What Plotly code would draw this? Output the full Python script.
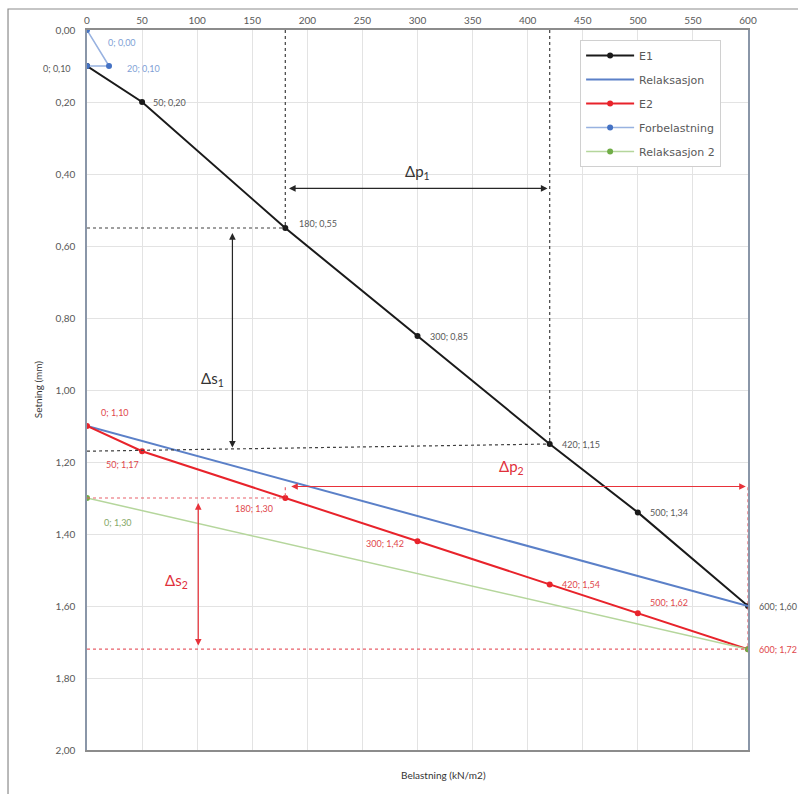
import plotly.graph_objects as go

# ---------------- data ----------------
e1_x = [0, 50, 180, 300, 420, 500, 600]
e1_y = [0.10, 0.20, 0.55, 0.85, 1.15, 1.34, 1.60]

rel_x = [0, 600]
rel_y = [1.10, 1.60]

e2_x = [0, 50, 180, 300, 420, 500, 600]
e2_y = [1.10, 1.17, 1.30, 1.42, 1.54, 1.62, 1.72]

forb_x = [0, 20, 0]
forb_y = [0.00, 0.10, 0.10]

rel2_x = [0, 600]
rel2_y = [1.30, 1.72]

x_ticks = [0, 50, 100, 150, 200, 250, 300, 350, 400, 450, 500, 550, 600]
y_ticks = [0.0, 0.2, 0.4, 0.6, 0.8, 1.0, 1.2, 1.4, 1.6, 1.8, 2.0]

# ---------------- styles ----------------
FONT = "Lato"
GRAY_TXT = "#595959"
C_E1 = "#1a1a1a"
C_REL = "#5b80c8"
C_E2 = "#e8232b"
C_FORB_LINE = "#98b2e0"
C_FORB_MK = "#4472c4"
C_REL2_LINE = "#b5d69c"
C_REL2_MK = "#70ad47"
C_E2_TXT = "#e0474c"
C_FORB_TXT = "#7f9fd6"
C_REL2_TXT = "#85a868"

def lbl(x, y):
    return f"{x}; {y:.2f}".replace(".", ",")

fig = go.Figure()

fig.add_trace(go.Scatter(x=e1_x, y=e1_y, mode="lines+markers", name="E1",
                         line=dict(color=C_E1, width=2), marker=dict(size=6, color=C_E1),
                         legendgroup="a"))
fig.add_trace(go.Scatter(x=rel_x, y=rel_y, mode="lines", name="Relaksasjon",
                         line=dict(color=C_REL, width=2), legendgroup="b"))
fig.add_trace(go.Scatter(x=e2_x, y=e2_y, mode="lines+markers", name="E2",
                         line=dict(color=C_E2, width=2), marker=dict(size=6, color=C_E2),
                         legendgroup="c"))
fig.add_trace(go.Scatter(x=forb_x, y=forb_y, mode="lines+markers", name="Forbelastning",
                         line=dict(color=C_FORB_LINE, width=1.5), marker=dict(size=6, color=C_FORB_MK),
                         legendgroup="d"))
fig.add_trace(go.Scatter(x=rel2_x, y=rel2_y, mode="lines+markers", name="Relaksasjon 2",
                         line=dict(color=C_REL2_LINE, width=1.5), marker=dict(size=6, color=C_REL2_MK),
                         legendgroup="e"))

annotations = []

def add_labels(xs, ys, color, offsets):
    for x, y, (anchor, dx, dy) in zip(xs, ys, offsets):
        if anchor is None:
            continue
        annotations.append(dict(x=x, y=y, xref="x", yref="y", text=lbl(x, y), showarrow=False,
                                xanchor=anchor, yanchor="middle", xshift=dx, yshift=dy,
                                font=dict(family=FONT, size=9, color=color)))

add_labels(e1_x, e1_y, GRAY_TXT, [("right", -14, -2), ("left", 9, 0), ("left", 12, 5),
                                  ("left", 10, 0), ("left", 10, 0), ("left", 10, 0), ("left", 9, 0)])
add_labels(e2_x, e2_y, C_E2_TXT, [("left", 12, 14), ("center", -20, -13), ("center", -31, -10),
                                  ("right", -12, -2), ("left", 10, 0), ("left", 10, 11), ("left", 9, 0)])
add_labels(forb_x, forb_y, C_FORB_TXT, [("left", 19, -12), ("left", 16, -2), (None, 0, 0)])
add_labels(rel2_x, rel2_y, C_REL2_TXT, [("left", 15, -24), (None, 0, 0)])

shapes = []

def dline(x0, y0, x1, y1, color, dash="dot", width=1.2):
    shapes.append(dict(type="line", xref="x", yref="y", x0=x0, y0=y0, x1=x1, y1=y1,
                       line=dict(color=color, width=width, dash=dash), layer="above"))

def darrow(x0, y0, x1, y1, color):
    annotations.append(dict(x=x1, y=y1, ax=x0, ay=y0, xref="x", yref="y", axref="x", ayref="y",
                            text="", showarrow=True, arrowhead=2, startarrowhead=2,
                            arrowside="end+start", arrowsize=1.1, arrowwidth=1.2, arrowcolor=color))

# black helper lines (E1)
dline(e1_x[2], 0, e1_x[2], e1_y[2], "#404040")
dline(e1_x[4], 0, e1_x[4], e1_y[4], "#404040")
dline(0, e1_y[2], e1_x[2], e1_y[2], "#404040")
dline(0, e2_y[1], e1_x[4], e1_y[4], "#404040")
darrow(182, 0.44, 418, 0.44, "#262626")
darrow(132, 0.56, 132, 1.16, "#262626")

# red helper lines (E2)
dline(0, e2_y[2], e2_x[2], e2_y[2], "#e8606a")
dline(0, e2_y[6], e2_x[6], e2_y[6], "#e8606a")
dline(e2_x[2], 1.27, e2_x[2], e2_y[2], "#e8606a")
dline(e2_x[6], 1.27, e2_x[6], e2_y[6], "#e8606a")
darrow(184, 1.268, 598, 1.268, "#e8323a")
darrow(101, 1.31, 101, 1.71, "#e8323a")

annotations += [
    dict(x=300, y=0.395, xref="x", yref="y", text="Δp<sub>1</sub>", showarrow=False,
         font=dict(family=FONT, size=15, color="#333333")),
    dict(x=114, y=0.97, xref="x", yref="y", text="Δs<sub>1</sub>", showarrow=False,
         font=dict(family=FONT, size=15, color="#333333")),
    dict(x=385, y=1.215, xref="x", yref="y", text="Δp<sub>2</sub>", showarrow=False,
         font=dict(family=FONT, size=15, color="#e0303a")),
    dict(x=81, y=1.53, xref="x", yref="y", text="Δs<sub>2</sub>", showarrow=False,
         font=dict(family=FONT, size=15, color="#e0303a")),
    dict(x=0.54, y=-0.046, xref="paper", yref="paper", text="Belastning (kN/m2)", showarrow=False,
         font=dict(family=FONT, size=10, color="#333333")),
    dict(x=-0.086, y=0.5, xref="paper", yref="paper", text="Setning (mm)", showarrow=False,
         textangle=-90, font=dict(family=FONT, size=10, color="#333333")),
]

# outer chart frame (only left/top visible in the reference)
shapes.append(dict(type="rect", xref="paper", yref="paper", x0=-0.1195, y0=-0.2, x1=1.3, y1=1.0292,
                   line=dict(color="#8c8c8c", width=1.2), layer="below"))

fig.update_layout(
    width=798, height=794,
    margin=dict(l=87, r=50, t=30, b=44),
    paper_bgcolor="white", plot_bgcolor="white",
    separators=", ",
    font=dict(family=FONT, size=10, color=GRAY_TXT),
    showlegend=True,
    legend=dict(x=0.746, y=0.986, xanchor="left", yanchor="top",
                bordercolor="#d0d0d0", borderwidth=1, bgcolor="white",
                font=dict(family="DejaVu Sans", size=11, color=GRAY_TXT),
                tracegroupgap=5, itemwidth=48),
    annotations=annotations,
    shapes=shapes,
    xaxis=dict(side="top", range=[0, 600], tickvals=x_ticks, showgrid=True, gridcolor="#e3e3e3",
               showline=True, linecolor="#8c8c8c", linewidth=1.5, mirror=True, ticks="",
               zeroline=False, tickfont=dict(family=FONT, size=10, color=GRAY_TXT)),
    yaxis=dict(range=[2, 0], tickvals=y_ticks, tickformat=".2f", showgrid=True, gridcolor="#e3e3e3",
               showline=True, linecolor="#8a96a8", linewidth=1.5, mirror=True, ticks="",
               zeroline=False, ticklabelstandoff=8,
               tickfont=dict(family=FONT, size=10, color=GRAY_TXT)),
)

fig.write_html("out.html")
